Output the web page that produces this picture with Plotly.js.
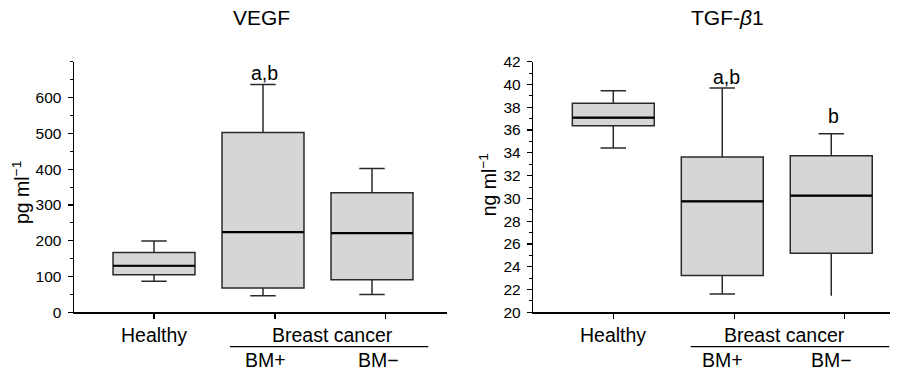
<!DOCTYPE html>
<html>
<head>
<meta charset="utf-8">
<script src="https://cdn.plot.ly/plotly-3.0.1.min.js"></script>
<style>html,body{margin:0;padding:0;background:#fff;}#chart{width:897px;height:371px;}</style>
</head>
<body>
<div id="chart"></div>
<script>
// ---- data ----
const groups = ["Healthy", "BM+", "BM−"];
const vegfMin = [87, 46, 50];
const vegfQ1 = [105, 68, 91];
const vegfMedian = [130, 224, 221];
const vegfQ3 = [167, 502, 334];
const vegfMax = [199, 636, 402];
const tgfMin = [34.42, 21.6, 21.46];
const tgfQ1 = [36.38, 23.22, 25.18];
const tgfMedian = [37.09, 29.74, 30.24];
const tgfQ3 = [38.35, 33.64, 33.75];
const tgfMax = [39.46, 39.69, 35.68];
const vegfTicks = [0, 100, 200, 300, 400, 500, 600];
const tgfTicks = [20, 22, 24, 26, 28, 30, 32, 34, 36, 38, 40, 42];

// ---- styling / layout ----
const FONT = "Liberation Sans, Arial, sans-serif";
const boxW = 0.752;
const capW = 0.31;
const pos = groups.map((g, i) => i);
const traces = [];

function addBoxes(mins, q1s, meds, q3s, maxs, xa, ya, noLowCapIdx) {
  groups.forEach((g, i) => {
    const noCap = (i === noLowCapIdx);
    traces.push({
      type: "box", name: g, x: [pos[i]], xaxis: xa, yaxis: ya,
      lowerfence: [mins[i]], q1: [q1s[i]], median: [meds[i]], q3: [q3s[i]], upperfence: [maxs[i]],
      width: boxW, whiskerwidth: noCap ? 0 : capW,
      fillcolor: "#d6d6d6", line: {color: "#2a2a2a", width: 1.5},
      boxpoints: false, hoverinfo: "skip", showlegend: false
    });
    // thicker median line
    traces.push({
      type: "scatter", mode: "lines", xaxis: xa, yaxis: ya,
      x: [pos[i] - boxW / 2, pos[i] + boxW / 2], y: [meds[i], meds[i]],
      line: {color: "#000", width: 2.2}, hoverinfo: "skip", showlegend: false
    });
    if (noCap) {
      // upper cap only
      traces.push({
        type: "scatter", mode: "lines", xaxis: xa, yaxis: ya,
        x: [pos[i] - boxW * capW / 2, pos[i] + boxW * capW / 2], y: [maxs[i], maxs[i]],
        line: {color: "#2a2a2a", width: 1.5}, hoverinfo: "skip", showlegend: false
      });
    }
  });
}
addBoxes(vegfMin, vegfQ1, vegfMedian, vegfQ3, vegfMax, "x", "y", -1);
addBoxes(tgfMin, tgfQ1, tgfMedian, tgfQ3, tgfMax, "x2", "y2", 2);

const W = 897, H = 371;
const px = v => v / W, py = v => (H - v) / H;
const yDom = [py(312.3), py(61.7)];
const tickX = [0, 1.11, 2.125];

const xCommon = {
  showline: true, linecolor: "#000", linewidth: 1.5, zeroline: false, showgrid: false,
  ticks: "outside", ticklen: 5, tickwidth: 1.2, tickcolor: "#000",
  tickmode: "array", tickvals: tickX, showticklabels: false, fixedrange: true
};
const yCommon = {
  showline: true, linecolor: "#000", linewidth: 1.5, zeroline: false, showgrid: false,
  ticks: "outside", ticklen: 5, tickwidth: 1.2, tickcolor: "#000", ticklabelstandoff: 3,
  tickfont: {family: FONT, size: 15.5, color: "#000"}, tickmode: "array", fixedrange: true
};

const layout = {
  width: W, height: H, margin: {l: 0, r: 0, t: 0, b: 0},
  paper_bgcolor: "#fff", plot_bgcolor: "rgba(0,0,0,0)",
  showlegend: false,
  font: {family: FONT, color: "#000"},
  xaxis: Object.assign({}, xCommon, {domain: [px(74), px(447)], range: [-0.734, 2.688], anchor: "y"}),
  yaxis: Object.assign({}, yCommon, {domain: yDom, range: [0, 700], anchor: "x",
    tickvals: vegfTicks, ticktext: vegfTicks.map(String),
    minor: {dtick: 50, tick0: 0, ticks: "outside", ticklen: 3, tickwidth: 1, tickcolor: "#000"}}),
  xaxis2: Object.assign({}, xCommon, {domain: [px(533.3), px(890)], range: [-0.734, 2.539], anchor: "y2"}),
  yaxis2: Object.assign({}, yCommon, {domain: yDom, range: [20, 42], anchor: "x2",
    tickvals: tgfTicks, ticktext: tgfTicks.map(String),
    minor: {dtick: 1, tick0: 20, ticks: "outside", ticklen: 3, tickwidth: 1, tickcolor: "#000"}}),
  annotations: [],
  shapes: []
};

const ann = (o) => layout.annotations.push(Object.assign({showarrow: false, xanchor: "center", yanchor: "middle",
  font: {family: FONT, size: 19.5, color: "#000"}}, o));

// titles
ann({text: "VEGF", xref: "paper", yref: "paper", x: px(261), y: py(18), font: {family: FONT, size: 21, color: "#000"}});
ann({text: "TGF-<i>β</i>1", xref: "paper", yref: "paper", x: px(727.5), y: py(18), font: {family: FONT, size: 21, color: "#000"}});
// y titles
ann({text: "pg ml<sup>−1</sup>", xref: "paper", yref: "paper", x: px(21), y: py(193), textangle: -90});
ann({text: "ng ml<sup>−1</sup>", xref: "paper", yref: "paper", x: px(488.3), y: py(185), textangle: -90});

// category labels
const panels = [
  {xr: "x", bc: 1.636, bm: [1.02, 2.06], line: [0.697, 2.516]},
  {xr: "x2", bc: 1.575, bm: [1.0, 2.0], line: [0.71, 2.532]}
];
panels.forEach(p => {
  ann({text: groups[0], xref: p.xr, yref: "paper", x: 0, y: py(334.7)});
  ann({text: "Breast cancer", xref: p.xr, yref: "paper", x: p.bc, y: py(334.7)});
  ann({text: groups[1], xref: p.xr, yref: "paper", x: p.bm[0], y: py(359.7)});
  ann({text: groups[2], xref: p.xr, yref: "paper", x: p.bm[1], y: py(359.7)});
  layout.shapes.push({type: "line", xref: p.xr, yref: "paper", x0: p.line[0], x1: p.line[1],
    y0: py(346.6), y1: py(346.6), line: {color: "#000", width: 1.3}});
});

// significance letters
ann({text: "a,b", xref: "x", yref: "y", x: 1.018, y: 669});
ann({text: "a,b", xref: "x2", yref: "y2", x: 1.043, y: 40.66});
ann({text: "b", xref: "x2", yref: "y2", x: 2.016, y: 37.23});

Plotly.newPlot("chart", traces, layout, {displayModeBar: false, staticPlot: true});
</script>
</body>
</html>
